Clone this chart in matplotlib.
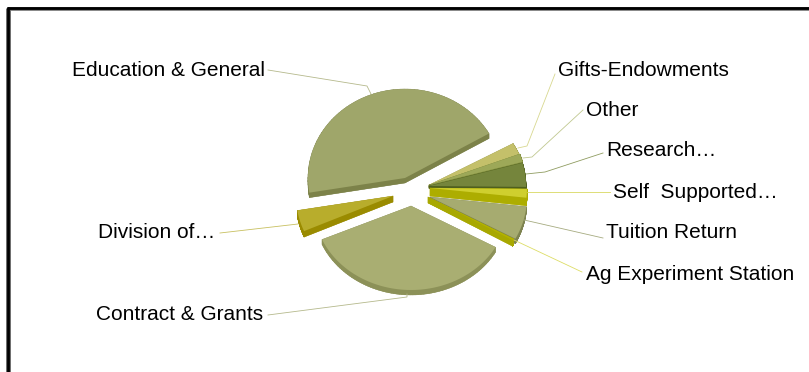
import numpy as np
import matplotlib
matplotlib.use("Agg")
import matplotlib.pyplot as plt
from matplotlib.patches import Polygon
from matplotlib.collections import PolyCollection

plt.rcParams['font.family'] = ['Liberation Sans', 'DejaVu Sans']

categories = ["Education & General", "Division of…", "Contract & Grants",
              "Ag Experiment Station", "Tuition Return", "Self  Supported…",
              "Research…", "Other", "Gifts-Endowments"]
values = [44.3, 3.9, 35.3, 0.3, 6.1, 1.6, 4.4, 1.5, 2.6]

apexes = [(405, 178), (393, 196), (411, 206), (428, 197), (430, 197),
          (430, 188), (429, 186), (429, 185), (429, 185)]
radii_y = [89, 88, 84, 88, 88, 88, 88, 88, 83]
depths = [5, 6, 5, 6, 5, 8, 2.5, 2.5, 2.5]
top_colors = ['#9FA66A', '#B8AD2C', '#A9AE72', '#B3B300', '#A6AB70',
              '#CFCF2E', '#75853C', '#9DA858', '#C4C06A']
side_colors = ['#7C8249', '#9A8B00', '#8C9158', '#A8A800', '#7E8350',
               '#ADAD00', '#4F5F1E', '#7D8A3A', '#A0A050']
line_colors = ['#B5B98C', '#C8C060', '#B5B98C', '#DDDD66', '#A6AB80',
               '#D8D860', '#8F9C60', '#C0C890', '#D8D890']
label_pos = [(72, 70), (98, 232), (96, 314), (586, 274), (606, 233),
             (613, 192), (606, 150), (586, 110), (558, 70)]
leaders = [[(268, 70), (367, 86), (371, 94)],
           [(220, 233), (298, 224)],
           [(268, 315), (407, 297), (407, 294)],
           [(582, 272), (514, 240)],
           [(603, 238), (533, 222), (524, 220)],
           [(610, 192), (527, 192)],
           [(603, 153), (545, 172), (526, 174)],
           [(583, 110), (532, 157), (523, 158)],
           [(555, 74), (527, 146), (518, 148)]]

W, H = 809, 372
fig = plt.figure(figsize=(W / 100, H / 100), dpi=100)
ax = fig.add_axes([0, 0, 1, 1])
ax.set_xlim(0, W)
ax.set_ylim(H, 0)
ax.axis('off')

rx = 97.0
start_angle = 30.0
angles = np.array(values) / sum(values) * 360.0
edges = start_angle + np.concatenate([[0], np.cumsum(angles)])

slices = []
for i in range(len(values)):
    ox, oy = apexes[i]
    t = np.radians(np.linspace(edges[i], edges[i + 1], 80))
    pts = np.column_stack([ox + rx * np.cos(t), oy - radii_y[i] * np.sin(t)])
    slices.append(np.vstack([[ox, oy], pts]))

order = [1, 0, 2, 8, 7, 6, 5, 4, 3]
for i in order:
    pts = slices[i]
    d = depths[i]
    closed = np.vstack([pts, pts[:1]])
    quads = [np.array([closed[j], closed[j + 1],
                       closed[j + 1] + [0, d], closed[j] + [0, d]])
             for j in range(len(closed) - 1)]
    ax.add_collection(PolyCollection(quads, facecolors=side_colors[i],
                                     edgecolors=side_colors[i], linewidths=0.3))
    ax.add_patch(Polygon(pts + [0, d], closed=True, fc=side_colors[i], ec='none'))
    ax.add_patch(Polygon(pts, closed=True, fc=top_colors[i], ec='none'))

for i, name in enumerate(categories):
    xs, ys = zip(*leaders[i])
    ax.plot(xs, ys, color=line_colors[i], lw=0.6, solid_joinstyle='miter')
    ax.text(label_pos[i][0], label_pos[i][1], name, fontsize=15,
            color='black', ha='left', va='center')

ax.plot([8, 8], [H, 8], color='#707070', lw=3.6, solid_capstyle='butt')
ax.plot([8, W], [9, 9], color='#707070', lw=2.6, solid_capstyle='butt')
ax.plot([8, 8], [H, 7], color='black', lw=2.0, solid_capstyle='butt')
ax.plot([7, W], [8, 8], color='black', lw=2.0, solid_capstyle='butt')

fig.savefig('out.png', dpi=100)
